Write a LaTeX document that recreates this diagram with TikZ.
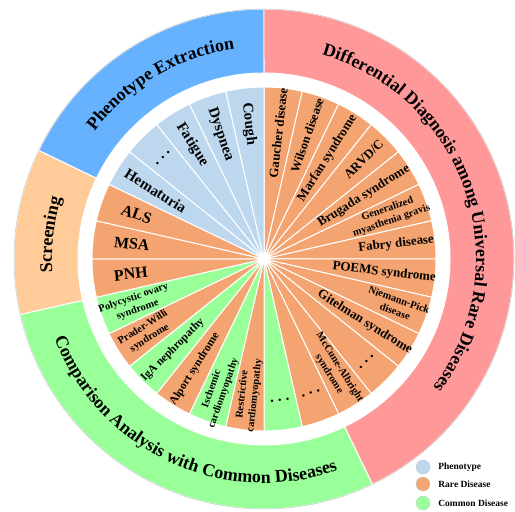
\documentclass[tikz,border=0pt]{standalone}
\usepackage{fontspec}
\setmainfont{Liberation Serif}
\usetikzlibrary{decorations.text,positioning}

\definecolor{phen}{RGB}{189,215,238}
\definecolor{rare}{RGB}{244,164,112}
\definecolor{comm}{RGB}{153,255,153}
\definecolor{ringblue}{RGB}{102,178,255}
\definecolor{ringpeach}{RGB}{255,204,153}
\definecolor{ringgreen}{RGB}{153,255,153}
\definecolor{ringpink}{RGB}{255,153,153}

\tikzset{
  wlabel/.style={align=center, inner sep=0pt},
  ringtext/.style={decorate, decoration={text along path, text align=center,
      text={|\bfseries\fontsize{18}{20}\selectfont|#1}}},
  legdot/.style={circle, draw=gray!40, minimum size=14bp, inner sep=0pt},
  legtext/.style={font=\bfseries\fontsize{9.5}{10}\selectfont, inner sep=0pt}
}

\begin{document}
\begin{tikzpicture}[x=1bp, y=1bp]
    \useasboundingbox (-264,-253) rectangle (251,259);

    % outer ring
    \foreach \a/\b/\c in {90/154.29/ringblue, 154.29/192.86/ringpeach, 192.86/295.71/ringgreen, 295.71/450/ringpink}
        \filldraw[fill=\c, draw=white, line width=1pt] (\a:250) arc[start angle=\a, end angle=\b, radius=250bp] -- (\b:186) arc[start angle=\b, end angle=\a, radius=186bp] -- cycle;
    \draw[gray!45, line width=0.5pt] (0,0) circle[radius=250bp];

    \path[ringtext={Phenotype Extraction}] (170:212) arc[start angle=170, end angle=71, radius=212bp];
    \path[ringtext={Differential Diagnosis among Universal Rare Diseases}] (130:212) arc[start angle=130, end angle=-93, radius=212bp];
    \path[ringtext={Screening}] (200:212) arc[start angle=200, end angle=147, radius=212bp];
    \path[ringtext={Comparison Analysis with Common Diseases}] (145:224) arc[start angle=145, end angle=345, radius=224bp];

    % inner wedges, clockwise from the top
    \foreach \c [count=\i from 0] in {rare,rare,rare,rare,rare,rare,rare,rare,rare,rare,rare,rare,rare,comm,rare,comm,rare,comm,rare,comm,rare,rare,rare,phen,phen,phen,phen,phen} {
        \pgfmathsetmacro\a{90-\i*360/28}
        \pgfmathsetmacro\b{\a-360/28}
        \filldraw[fill=\c, draw=white, line width=1pt] (0,0) -- (\a:172) arc[start angle=\a, end angle=\b, radius=172bp] -- cycle;
    }
    \fill[white] (0,0) circle[radius=4bp];

    % wedge labels
    \foreach \i/\rad/\sz/\txt in {0/127/13/Gaucher disease, 1/131/12.5/Wilson disease, 2/119/13/Marfan syndrome, 3/141/13/{ARVD/C},
        4/118/13/Brugada syndrome, 5/133/10.5/Generalized\\myasthenia gravis, 6/133/13/Fabry disease, 7/121/13/POEMS syndrome,
        8/141/10.5/Niemann-Pick\\disease, 9/119/13/Gitelman syndrome, 11/132/10.5/McCune-Albright\\syndrome,
        14/137/10.5/Restrictive\\cardiomyopathy, 15/140/10.5/Ischemic\\cardiomyopathy, 16/130/11.5/Alport syndrome,
        17/129/11.5/IgA nephropathy, 18/139/10.5/Prader-Willi\\syndrome, 19/136/10.5/Polycystic ovary\\syndrome,
        20/134/16/PNH, 21/133/16/MSA, 22/135/16/ALS, 23/128/15/Hematuria, 25/135/15/Fatigue, 26/132/15/Dyspnea, 27/136/15/Cough} {
        \pgfmathsetmacro\ang{90-(\i+0.5)*360/28}
        \pgfmathsetmacro\rot{\i<14 ? \ang : \ang+180}
        \node[wlabel, rotate=\rot, font=\bfseries\fontsize{\sz}{12.5}\selectfont] (lab\i) at (\ang:\rad) {\txt};
    }
    \foreach \i/\rad in {10/145, 12/142, 13/142, 24/143} {
        \pgfmathsetmacro\ang{90-(\i+0.5)*360/28}
        \node[wlabel, rotate=\ang+90, font=\bfseries\fontsize{15}{15}\selectfont] (dots\i) at (\ang:\rad) {.\hspace{4pt}.\hspace{4pt}.};
    }

    % legend
    \node[legdot, fill=phen] (lgphen) at (159,-208) {};
    \node[legdot, fill=rare] (lgrare) at (159,-225) {};
    \node[legdot, fill=comm] (lgcomm) at (159,-244) {};
    \node[legtext, right=8bp of lgphen] (txphen) {Phenotype};
    \node[legtext, right=8bp of lgrare] (txrare) {Rare Disease};
    \node[legtext, right=8bp of lgcomm] (txcomm) {Common Disease};
\end{tikzpicture}
\end{document}
